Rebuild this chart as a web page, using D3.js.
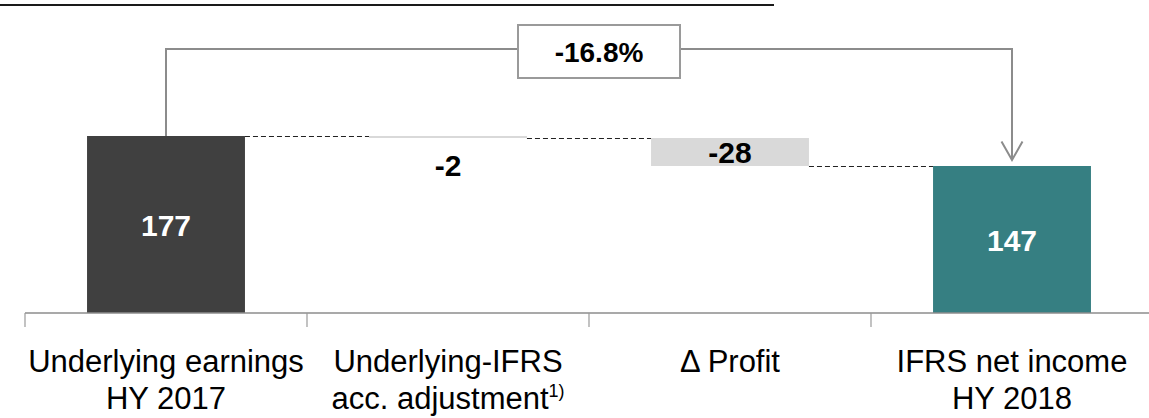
<!DOCTYPE html>
<html>
<head>
<meta charset="utf-8">
<script src="https://cdn.jsdelivr.net/npm/d3@7"></script>
<style>
  html, body { margin: 0; padding: 0; background: #fff; }
  svg { display: block; font-family: "Liberation Sans", Arial, sans-serif; }
</style>
</head>
<body>
<svg id="chart" width="1149" height="418"></svg>
<script>
// Bridge from underlying earnings HY 2017 to IFRS net income HY 2018 (EUR m)
const categories = ["Underlying earnings|HY 2017", "Underlying-IFRS|acc. adjustment", "\u0394 Profit", "IFRS net income|HY 2018"];
const footnotes = ["", "1)", "", ""];
const values = [177, -2, -28, 147];
const kinds = ["total", "delta", "delta", "total"];
const valueLabels = ["177", "-2", "-28", "147"];
const changeLabel = "-16.8%";

const fills = { first: "#404040", delta: "#d9d9d9", last: "#367f82" };

const svg = d3.select("#chart");
const W = 1149;

// waterfall segments: each step starts where the previous ended
let running = 0;
const steps = values.map((v, i) => {
  let start, end;
  if (kinds[i] === "total") { start = 0; end = v; running = v; }
  else { start = running; end = running + v; running = end; }
  return { key: categories[i], value: v, start, end, kind: kinds[i], i };
});

const x = d3.scaleBand().domain(categories).range([25, 1153]).paddingInner(0.44).paddingOuter(0.22);
const y = d3.scaleLinear().domain([0, 177]).range([313, 136]);
const bw = x.bandwidth();
const cx = d => x(d) + bw / 2;

// heading rule
svg.append("line").attr("x1", 0).attr("x2", 774).attr("y1", 5).attr("y2", 5)
  .attr("stroke", "#1a1a1a").attr("stroke-width", 2);

// dashed connectors between consecutive bars
for (let i = 0; i < steps.length - 1; i++) {
  const level = steps[i].kind === "total" ? steps[i].end : steps[i].end;
  svg.append("line")
    .attr("x1", x(steps[i].key) + bw).attr("x2", x(steps[i + 1].key))
    .attr("y1", y(level) + 0.5).attr("y2", y(level) + 0.5)
    .attr("stroke", "#222").attr("stroke-width", 1.2).attr("stroke-dasharray", "5,3");
}

// bars
svg.selectAll("rect.bar").data(steps).join("rect")
  .attr("class", "bar")
  .attr("x", d => x(d.key))
  .attr("width", bw)
  .attr("y", d => y(Math.max(d.start, d.end)))
  .attr("height", d => Math.abs(y(d.start) - y(d.end)))
  .attr("fill", d => d.i === 0 ? fills.first : d.i === steps.length - 1 ? fills.last : fills.delta);

// axis baseline with boundary ticks
const axisY = y(0);
svg.append("line").attr("x1", x.step() * 0 + x(categories[0]) - x.step() * x.paddingOuter())
  .attr("x2", W).attr("y1", axisY).attr("y2", axisY)
  .attr("stroke", "#8c8c8c").attr("stroke-width", 1.5);
svg.selectAll("line.tick").data(categories).join("line")
  .attr("class", "tick")
  .attr("x1", d => x(d) - x.step() * x.paddingOuter())
  .attr("x2", d => x(d) - x.step() * x.paddingOuter())
  .attr("y1", axisY).attr("y2", axisY + 14)
  .attr("stroke", "#9a9a9a").attr("stroke-width", 1.2);

// value labels
svg.selectAll("text.val").data(steps).join("text")
  .attr("class", "val")
  .attr("x", d => cx(d.key))
  .attr("y", d => {
    if (d.kind === "total") return (y(d.end) + y(0)) / 2 + 11;
    const top = y(Math.max(d.start, d.end)), bot = y(Math.min(d.start, d.end));
    return (bot - top) < 20 ? bot + 38 : (top + bot) / 2 + 11;
  })
  .attr("text-anchor", "middle")
  .attr("font-size", 30).attr("font-weight", "bold")
  .attr("fill", d => d.kind === "total" ? "#fff" : "#000")
  .text((d, i) => valueLabels[i]);

// category labels, two lines each
const cat = svg.selectAll("text.cat").data(categories).join("text")
  .attr("class", "cat")
  .attr("text-anchor", "middle")
  .attr("font-size", 31).attr("fill", "#000");
cat.each(function (d, i) {
  const lines = d.split("|");
  const t = d3.select(this);
  lines.forEach((ln, j) => {
    const ts = t.append("tspan").attr("x", cx(d)).attr("y", 372 + j * 37).text(ln);
    if (j === lines.length - 1 && footnotes[i]) {
      ts.append("tspan").attr("font-size", 18).attr("dy", -12).text(footnotes[i]);
    }
  });
});

// overall change bracket: from first total to last total
const xa = cx(categories[0]);
const xb = cx(categories[categories.length - 1]);
const bracketY = 49;
const arrowTip = y(values[values.length - 1]) - 6;
svg.append("path")
  .attr("d", `M${xa},${y(values[0])} V${bracketY} H${xb} V${arrowTip}`)
  .attr("fill", "none").attr("stroke", "#8c8c8c").attr("stroke-width", 2);
svg.append("path")
  .attr("d", `M${xb - 10.5},${arrowTip - 18.5} L${xb},${arrowTip} L${xb + 10.5},${arrowTip - 18.5}`)
  .attr("fill", "none").attr("stroke", "#8c8c8c").attr("stroke-width", 2);

const boxCx = (xa + xb) / 2 + 10, boxW = 162, boxH = 53;
svg.append("rect")
  .attr("x", boxCx - boxW / 2).attr("y", 25).attr("width", boxW).attr("height", boxH)
  .attr("fill", "#fff").attr("stroke", "#9a9a9a").attr("stroke-width", 2);
svg.append("text")
  .attr("x", boxCx).attr("y", 61.5)
  .attr("text-anchor", "middle").attr("font-size", 28).attr("font-weight", "bold")
  .text(changeLabel);
</script>
</body>
</html>
